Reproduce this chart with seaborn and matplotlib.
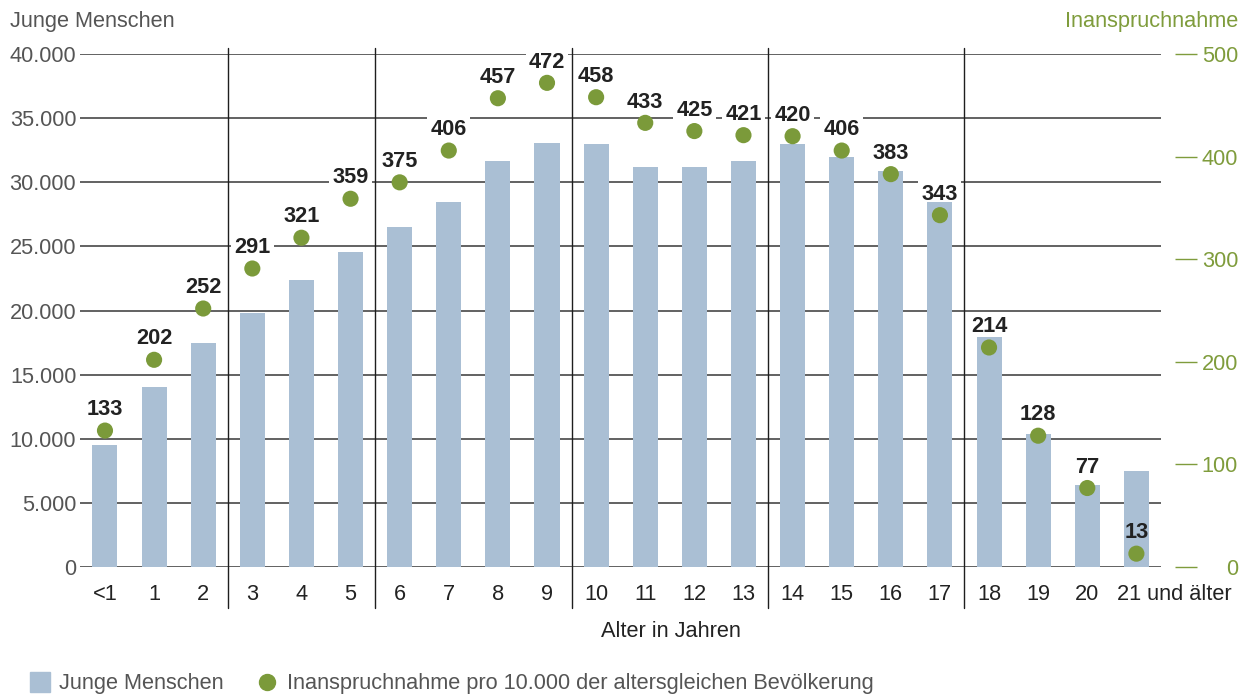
import numpy as np
import pandas as pd
import matplotlib
matplotlib.use("Agg")
import matplotlib.pyplot as plt
import matplotlib.transforms as mtransforms
from matplotlib.lines import Line2D
import seaborn as sns

# Age groups, number of young people, and usage per 10,000 of the same age
ages = ["<1", "1", "2", "3", "4", "5", "6", "7", "8", "9", "10", "11",
        "12", "13", "14", "15", "16", "17", "18", "19", "20", "21 und älter"]
young_people = [9500, 14000, 17500, 19800, 22400, 24600, 26500, 28500,
                31700, 33100, 33000, 31200, 31200, 31700, 33000, 32000,
                30900, 28500, 17900, 10400, 6400, 7500]
usage_rate = [133, 202, 252, 291, 321, 359, 375, 406, 457, 472, 458, 433,
              425, 421, 420, 406, 383, 343, 214, 128, 77, 13]
left_ticks = [0, 5000, 10000, 15000, 20000, 25000, 30000, 35000, 40000]
right_ticks = [0, 100, 200, 300, 400, 500]
group_bounds = [2.5, 5.5, 9.5, 13.5, 17.5]

BAR = "#aabfd4"
GREEN = "#7b9a3a"
GREEN_TXT = "#7f9c3c"
GRAY = "#555555"
DARK = "#222222"
FS = 15.7

sns.set_theme(style="white")
plt.rcParams["font.family"] = ["Liberation Sans", "DejaVu Sans"]

df = pd.DataFrame({"age": ages, "pos": np.arange(len(ages)),
                   "young": young_people, "rate": usage_rate})

fig = plt.figure(figsize=(12.41, 6.94), dpi=100)
ax = fig.add_axes([0.0648, 0.183, 0.8707, 0.739])

sns.barplot(data=df, x="age", y="young", order=ages, color=BAR,
            saturation=1, width=0.51, linewidth=0, ax=ax)
for p in ax.patches:
    p.set_zorder(2)

ax.set_ylim(0, 40000)
ax.set_yticks(left_ticks)
ax.set_yticklabels([f"{v:,}".replace(",", ".") for v in left_ticks])
ax.set_axisbelow(True)
ax.yaxis.grid(True, color="#555555", lw=1.3)
ax.xaxis.grid(False)
for s in ax.spines.values():
    s.set_visible(False)
ax.tick_params(axis="y", length=0, pad=3, labelsize=FS, labelcolor=GRAY)
ax.tick_params(axis="x", length=0, pad=12.5, labelsize=FS, labelcolor=DARK)
ax.set_ylabel("")
ax.set_xlabel("Alter in Jahren", fontsize=FS, color=DARK, va="center")
ax.xaxis.set_label_coords(0.5466, -0.1248)

# last label starts under its bar and runs to the right
last = ax.get_xticklabels()[-1]
last.set_horizontalalignment("left")
last.set_transform(last.get_transform() +
                   mtransforms.ScaledTranslation(-19 / 100, 0, fig.dpi_scale_trans))

# separators between age groups
xt = ax.get_xaxis_transform()
for b in group_bounds:
    ax.plot([b, b], [1.0117, -0.08], transform=xt, clip_on=False,
            color="#1e1e1e", lw=1, zorder=1)

ax2 = ax.twinx()
sns.scatterplot(data=df, x="pos", y="rate", ax=ax2, s=135, color=GREEN,
                edgecolor="none", legend=False, zorder=4)
ax2.set_ylim(0, 500)
ax2.set_yticks(right_ticks)
ax2.set_ylabel("")
ax2.set_xlabel("")
ax2.grid(False)
for s in ax2.spines.values():
    s.set_visible(False)
ax2.spines["right"].set_visible(True)
ax2.spines["right"].set_color("none")
ax2.spines["right"].set_position(("outward", 10))
ax2.tick_params(axis="y", right=True, length=16, width=1, color=GREEN_TXT,
                pad=29.5, labelsize=FS, labelcolor=GREEN_TXT)
for t in ax2.get_yticklabels():
    t.set_horizontalalignment("right")

ax.set_xlim(-0.5, len(ages) - 0.5)
ax2.set_xlim(-0.5, len(ages) - 0.5)

# value labels: white knock-out behind, text on top
for i, v in enumerate(usage_rate):
    ax.annotate(str(v), (i, v * 80), xytext=(0, 15), textcoords="offset points",
                ha="center", va="center", fontsize=FS, fontweight="bold",
                color="white", zorder=1.5,
                bbox=dict(boxstyle="square,pad=0.15", fc="white", ec="none"))
    ax2.annotate(str(v), (i, v), xytext=(0, 15), textcoords="offset points",
                 ha="center", va="center", fontsize=FS, fontweight="bold",
                 color=DARK, zorder=5)

fig.text(10 / 1241, 1 - 22 / 694, "Junge Menschen", ha="left", va="center",
         fontsize=FS, color=GRAY)
fig.text(1238 / 1241, 1 - 22 / 694, "Inanspruchnahme", ha="right", va="center",
         fontsize=FS, color=GREEN_TXT)

handles = [Line2D([], [], marker="s", ls="none", markersize=14.4, color=BAR),
           Line2D([], [], marker="o", ls="none", markersize=11.5, color=GREEN)]
labels = ["Junge Menschen",
          "Inanspruchnahme pro 10.000 der altersgleichen Bevölkerung"]
fig.legend(handles, labels, loc="center left",
           bbox_to_anchor=(29.6 / 1241, 1 - 684 / 694), ncol=2, frameon=False,
           fontsize=FS, labelcolor=GRAY, handlelength=0.95, handletextpad=0.42,
           columnspacing=1.5, borderpad=0, borderaxespad=0)

fig.savefig("out.png", dpi=100)
